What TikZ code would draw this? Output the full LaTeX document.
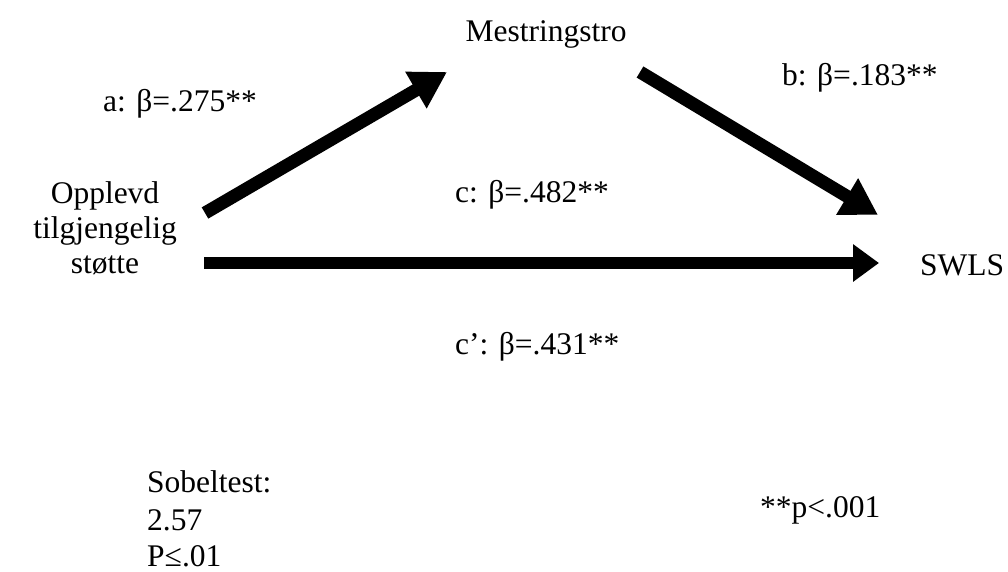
\documentclass[tikz,border=0pt]{standalone}
\usepackage{fontspec}
\setmainfont{Liberation Serif}
\usetikzlibrary{arrows.meta}
\begin{document}
\begin{tikzpicture}[x=1pt,y=-1pt,
  lbl/.style={inner sep=0pt,font=\fontsize{31.5}{36}\selectfont},
  bigarrow/.style={line width=13pt,-{Triangle[length=36pt,width=40pt]}},
  flatarrow/.style={line width=12pt,-{Triangle[length=26pt,width=36pt]}}]
\useasboundingbox (0,0) rectangle (1008,572);
\node[lbl,anchor=base] (m) at (546,42) {Mestringstro};
\node[lbl,anchor=base west] (la) at (103,112) {a: β=.275**};
\node[lbl,anchor=base west] (lb) at (782,86) {b: β=.183**};
\node[lbl,anchor=base] (x1) at (105,203) {Opplevd};
\node[lbl,anchor=base] (x2) at (105,238) {tilgjengelig};
\node[lbl,anchor=base] (x3) at (105,273) {støtte};
\node[lbl,anchor=base west] (lc) at (455,202) {c: β=.482**};
\node[lbl,anchor=base west] (y) at (920,275) {SWLS};
\node[lbl,anchor=base west] (lcp) at (455,354) {c’: β=.431**};
\node[lbl,anchor=base west] (s1) at (147,492) {Sobeltest:};
\node[lbl,anchor=base west] (s2) at (147,530) {2.57};
\node[lbl,anchor=base west] (s3) at (147,566) {P≤.01};
\node[lbl,anchor=base west] (p) at (760,517) {**p<.001};
\coordinate (a0) at (205,213);
\coordinate (a1) at (447,72);
\coordinate (b0) at (640,72);
\coordinate (b1) at (878,215);
\coordinate (c0) at (204,263);
\coordinate (c1) at (879,263);
\draw[bigarrow] (a0) -- (a1);
\draw[bigarrow] (b0) -- (b1);
\draw[flatarrow] (c0) -- (c1);
\end{tikzpicture}
\end{document}
